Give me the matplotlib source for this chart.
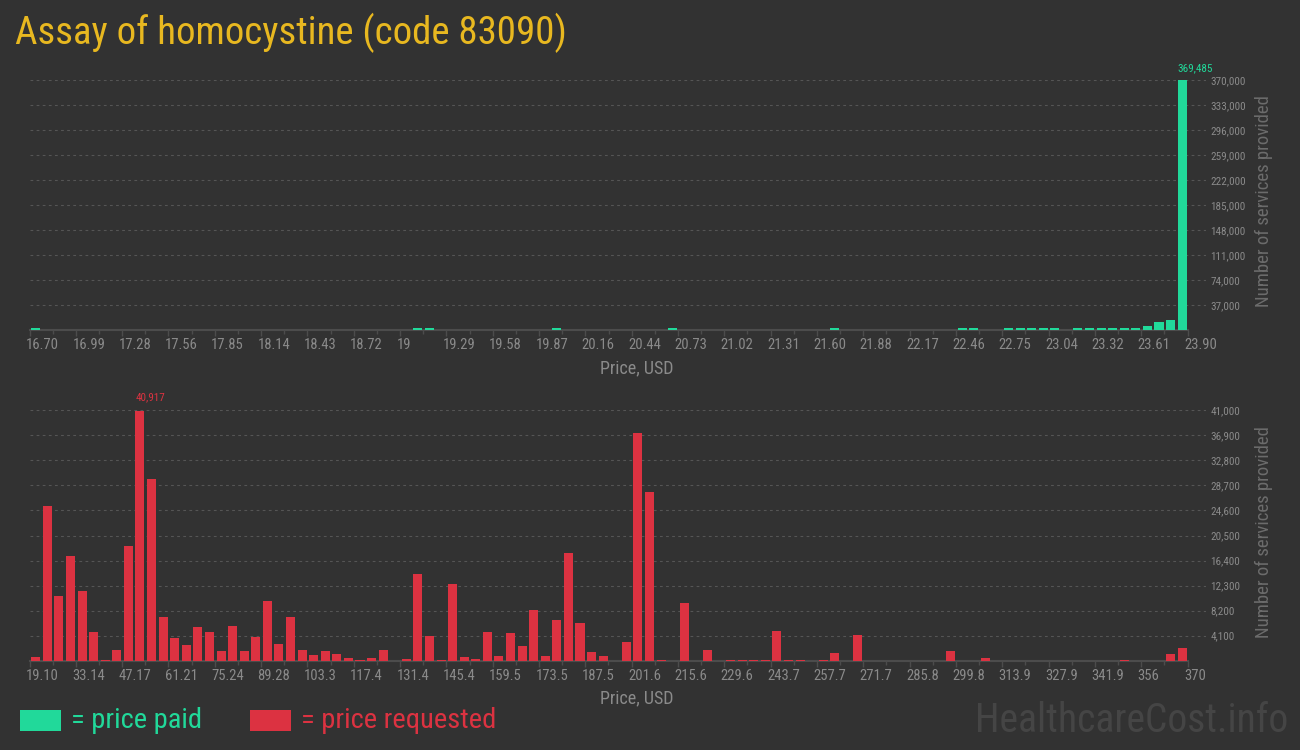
import numpy as np
import matplotlib
matplotlib.use("Agg")
import matplotlib.pyplot as plt
import matplotlib.transforms as mt
from matplotlib import font_manager
from matplotlib.patches import Rectangle

# ---------------- data ----------------
title = "Assay of homocystine (code 83090)"

paid_range = (16.70, 23.90)
paid_ticklabels = ["16.70", "16.99", "17.28", "17.56", "17.85", "18.14", "18.43", "18.72", "19",
                   "19.29", "19.58", "19.87", "20.16", "20.44", "20.73", "21.02", "21.31", "21.60",
                   "21.88", "22.17", "22.46", "22.75", "23.04", "23.32", "23.61", "23.90"]
paid_yticks = [37000, 74000, 111000, 148000, 185000, 222000, 259000, 296000, 333000, 370000]
paid_counts = [2300] + [0] * 32 + [2300, 2300] + [0] * 10 + [2300] + [0] * 9 + [2300] + [0] * 13 + \
              [2300] + [0] * 10 + [2300, 2300, 0, 0, 2300, 2300, 2300, 2300, 2300, 0,
                                   2300, 2300, 2300, 2300, 2300, 3200, 5400, 11300, 14300, 369485]

req_range = (19.10, 370.0)
req_ticklabels = ["19.10", "33.14", "47.17", "61.21", "75.24", "89.28", "103.3", "117.4", "131.4",
                  "145.4", "159.5", "173.5", "187.5", "201.6", "215.6", "229.6", "243.7", "257.7",
                  "271.7", "285.8", "299.8", "313.9", "327.9", "341.9", "356", "370"]
req_yticks = [4100, 8200, 12300, 16400, 20500, 24600, 28700, 32800, 36900, 41000]
req_counts = [600, 25330, 10590, 17140, 11410, 4700, 150, 1750, 18780, 40917,
              29760, 7150, 3710, 2570, 5510, 4700, 1580, 5680, 1580, 3880,
              9770, 2730, 7150, 1750, 930, 1580, 1090, 440, 150, 440,
              1750, 0, 270, 14200, 4040, 150, 12560, 600, 270, 4700,
              760, 4530, 2400, 8300, 760, 6660, 17640, 6170, 1420, 760,
              0, 3060, 37290, 27630, 150, 0, 9450, 0, 1750, 0,
              150, 150, 150, 150, 4860, 150, 150, 0, 150, 1260,
              0, 4200, 0, 0, 0, 0, 0, 0, 0, 1580,
              0, 0, 440, 0, 0, 0, 0, 0, 0, 0,
              0, 0, 0, 0, 150, 0, 0, 0, 1090, 2070]

# ---------------- style ----------------
BG = "#323232"
GREEN = "#21d99a"
RED = "#dc3241"
TITLE_C = "#e8b820"
TICK_C = "#8a8a8a"
LAB_C = "#6c6c6c"
GRID_C = "#555555"
AXIS_C = "#4c4c4c"

avail = {f.name for f in font_manager.fontManager.ttflist}
COND = "Roboto Condensed" in avail
FONT = ["Roboto Condensed", "Roboto", "DejaVu Sans"] if COND else ["Roboto", "DejaVu Sans"]
plt.rcParams["font.family"] = FONT

W, H = 1300, 750
fig = plt.figure(figsize=(W / 100, H / 100), dpi=100, facecolor=BG)


def px_axes(left, right, top, bottom):
    return fig.add_axes([left / W, 1 - bottom / H, (right - left) / W, (bottom - top) / H])


def setup(ax, rng, nbins, counts, color, ticklabels, yticks, ymax, annot_dy):
    ax.set_facecolor(BG)
    lo, hi = rng
    binw = (hi - lo) / nbins
    px_per_unit = (1187.5 - 29.5) / (hi - lo)
    ext = hi + (1206 - 1187.5) / px_per_unit
    centers = lo + binw * (np.arange(nbins) + 0.54)
    ax.bar(centers, counts, width=binw * 0.78, color=color, zorder=3)
    ax.set_xlim(lo, ext)
    ax.set_ylim(0, ymax)
    for s in ("top", "right", "left"):
        ax.spines[s].set_visible(False)
    ax.spines["bottom"].set_bounds(lo, hi)
    ax.spines["bottom"].set_color(AXIS_C)
    ax.spines["bottom"].set_linewidth(1.5)
    ax.spines["bottom"].set_zorder(2)
    ticks = np.linspace(lo, hi, len(ticklabels))
    ax.set_xticks(ticks)
    ax.set_xticklabels(ticklabels, fontsize=10.5 if COND else 9, color=TICK_C, ha="left")
    ax.set_xticks((ticks[:-1] + ticks[1:]) / 2, minor=True)
    ax.tick_params(axis="x", which="major", length=4, width=1, color=AXIS_C, pad=2)
    ax.tick_params(axis="x", which="minor", length=3, width=1, color=AXIS_C)
    off = mt.ScaledTranslation(-3.5 / 100, 0, fig.dpi_scale_trans)
    for lab in ax.get_xticklabels():
        lab.set_transform(lab.get_transform() + off)
    ax.yaxis.tick_right()
    ax.set_yticks(yticks)
    ax.set_yticklabels([f"{v:,}" for v in yticks], fontsize=8 if COND else 7, color=TICK_C)
    ax.tick_params(axis="y", length=0, pad=3)
    ax.yaxis.grid(True, color=GRID_C, linestyle=(0, (2.5, 3)), linewidth=0.8, zorder=0)
    ax.set_axisbelow(True)
    imax = int(np.argmax(counts))
    ax.text(lo + binw * (imax + 0.15), counts[imax] + annot_dy, f"{counts[imax]:,}",
            color=color, fontsize=8 if COND else 6.5, ha="left", va="bottom", clip_on=False)
    return ax


ax1 = px_axes(29.5, 1206, 80, 330)
setup(ax1, paid_range, len(paid_counts), paid_counts, GREEN, paid_ticklabels,
      paid_yticks, 370000, 10500)
ax2 = px_axes(29.5, 1206, 410.3, 660.7)
setup(ax2, req_range, len(req_counts), req_counts, RED, req_ticklabels,
      req_yticks, 41000, 1350)

# axis titles
for yc in (368, 698):
    fig.text(637 / W, 1 - yc / H, "Price, USD", color=TICK_C, fontsize=13 if COND else 11.5,
             ha="center", va="center")
for yc in (201, 532):
    fig.text(1264 / W, 1 - yc / H, "Number of services provided", color=LAB_C,
             fontsize=13.5 if COND else 11.5, rotation=90, ha="center", va="center")

# title
fig.text(15 / W, 1 - 33 / H, title, color=TITLE_C, fontsize=28 if COND else 24,
         ha="left", va="center")

# legend
fig.patches.append(Rectangle((20 / W, 1 - 731 / H), 41 / W, 21 / H, transform=fig.transFigure,
                             facecolor=GREEN, edgecolor="none"))
fig.text(71 / W, 1 - 720 / H, "= price paid", color=GREEN, fontsize=20.5 if COND else 17,
         ha="left", va="center")
fig.patches.append(Rectangle((250 / W, 1 - 731 / H), 41 / W, 21 / H, transform=fig.transFigure,
                             facecolor=RED, edgecolor="none"))
fig.text(301 / W, 1 - 720 / H, "= price requested", color=RED, fontsize=20.5 if COND else 17,
         ha="left", va="center")

# watermark
fig.text(1288 / W, 1 - 720 / H, "HealthcareCost.info", color="#454545",
         fontsize=28.5 if COND else 24, ha="right", va="center")

fig.savefig("out.png", dpi=100, facecolor=BG)
